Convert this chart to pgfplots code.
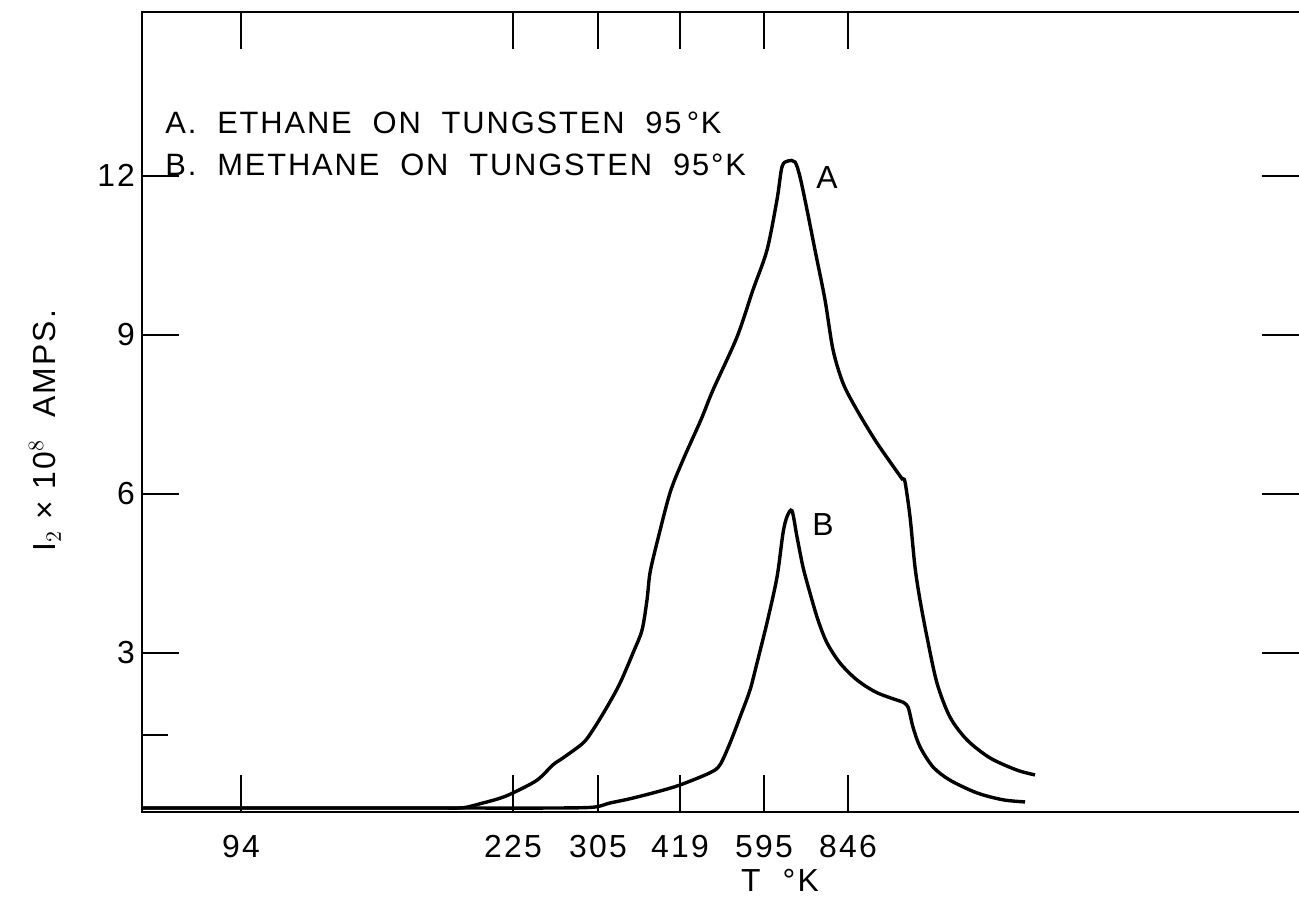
\documentclass[border=0pt]{standalone}
\usepackage{pgfplots}
\pgfplotsset{compat=1.18}
\usepackage{fontspec}
\setmainfont{Liberation Sans}
\newfontfamily\lettering[LetterSpace=7]{Liberation Sans}
\newfontfamily\legendfont[LetterSpace=6]{Liberation Sans}
\begin{document}
\begin{tikzpicture}
\useasboundingbox (0,0) rectangle (649.5bp,455bp);
\begin{axis}[
  at={(71bp,49bp)}, anchor=south west,
  scale only axis, width=578.5bp, height=400bp,
  xmin=142, xmax=1299, ymin=0, ymax=15.09,
  axis line style={draw=none},
  clip=false,
  xtick={241,513,598,680,764,848},
  xticklabels={94,225,305,419,595,846},
  ytick={3,6,9,12},
  yticklabels={3,6,9,12},
  xtick pos=both, ytick pos=both,
  xticklabel pos=bottom, yticklabel pos=left,
  tick align=inside,
  major tick length=18.5bp,
  tick style={line width=1.3bp, black},
  ticklabel style={font=\lettering\fontsize{16}{19}\selectfont},
  xticklabel style={yshift=-8bp},
  xlabel={T\ \ °K},
  xlabel style={at={(axis description cs:0.5514,0)}, anchor=north, yshift=-25bp, font=\lettering\fontsize{16}{19}\selectfont},
  ylabel={I$_{2}$ × 10$^{8}$\ \ AMPS.},
  ylabel style={at={(axis description cs:-0.0838,0.477)}, anchor=center, font=\lettering\fontsize{16}{19}\selectfont},
]
% axis frame (left, top, bottom)
\draw[line width=1.3bp] (rel axis cs:1,1) -- (rel axis cs:0,1) -- (rel axis cs:0,0) -- (rel axis cs:1,0);
\draw[line width=1.3bp] (axis cs:142,1.45) -- (axis cs:168,1.45);
% Curve A: ethane
\addplot[black, line width=1.7bp, smooth, tension=0.5] coordinates {
(142,0.075) (250,0.075) (350,0.075) (440,0.075) (463,0.08) (483,0.17) (500,0.26)
(513,0.36) (537,0.60) (553,0.89) (563,1.02) (583,1.30) (593,1.55) (607,1.98)
(620,2.43) (633,3.00) (642,3.43) (647,4.00) (650,4.51) (657,5.08) (670,6.02)
(683,6.64) (701,7.40) (713,7.96) (737,8.96) (753,9.85) (767,10.60) (777,11.55)
(782,12.17) (788,12.28) (795,12.26) (800,11.98) (807,11.36) (815,10.60)
(825,9.66) (833,8.72) (843,8.09) (857,7.58) (877,6.96) (903,6.26)
};
\addplot[black, line width=1.7bp, smooth, tension=0.5] coordinates {
(903,6.26) (905,6.23) (910,5.57) (915,4.62) (920,4.00) (927,3.30) (937,2.43)
(950,1.79) (967,1.36) (990,1.02) (1017,0.79) (1035,0.70)
};
% Curve B: methane
\addplot[black, line width=1.7bp, smooth, tension=0.5] coordinates {
(142,0.075) (250,0.075) (350,0.075) (450,0.075) (550,0.075) (593,0.09) (610,0.17)
(630,0.25) (657,0.38) (680,0.51) (710,0.74) (720,0.89) (730,1.30) (740,1.79)
(750,2.30) (757,2.81) (767,3.57) (777,4.43) (783,5.26) (787,5.57) (792,5.68)
(797,5.19) (803,4.62) (810,4.13) (818,3.62) (827,3.19) (840,2.81) (857,2.49)
(877,2.25) (902,2.08)
};
\addplot[black, line width=1.7bp, smooth, tension=0.5] coordinates {
(902,2.08) (908,1.98) (913,1.60) (920,1.23) (933,0.85) (950,0.60) (977,0.36)
(1003,0.23) (1025,0.19)
};
\node[font=\lettering\fontsize{16}{19}\selectfont] at (axis cs:827,11.96) {A};
\node[font=\lettering\fontsize{16}{19}\selectfont] at (axis cs:823,5.42) {B};
\node[anchor=base west, inner sep=0pt, font=\legendfont\fontsize{15.5}{18}\selectfont] at (axis cs:165,12.79) {A.\ \ ETHANE\ \ ON\ \ TUNGSTEN\ \ 95\,°K};
\node[anchor=base west, inner sep=0pt, font=\legendfont\fontsize{15.5}{18}\selectfont] at (axis cs:165,12.0) {B.\ \ METHANE\ \ ON\ \ TUNGSTEN\ \ 95°K};
\end{axis}
\end{tikzpicture}
\end{document}
